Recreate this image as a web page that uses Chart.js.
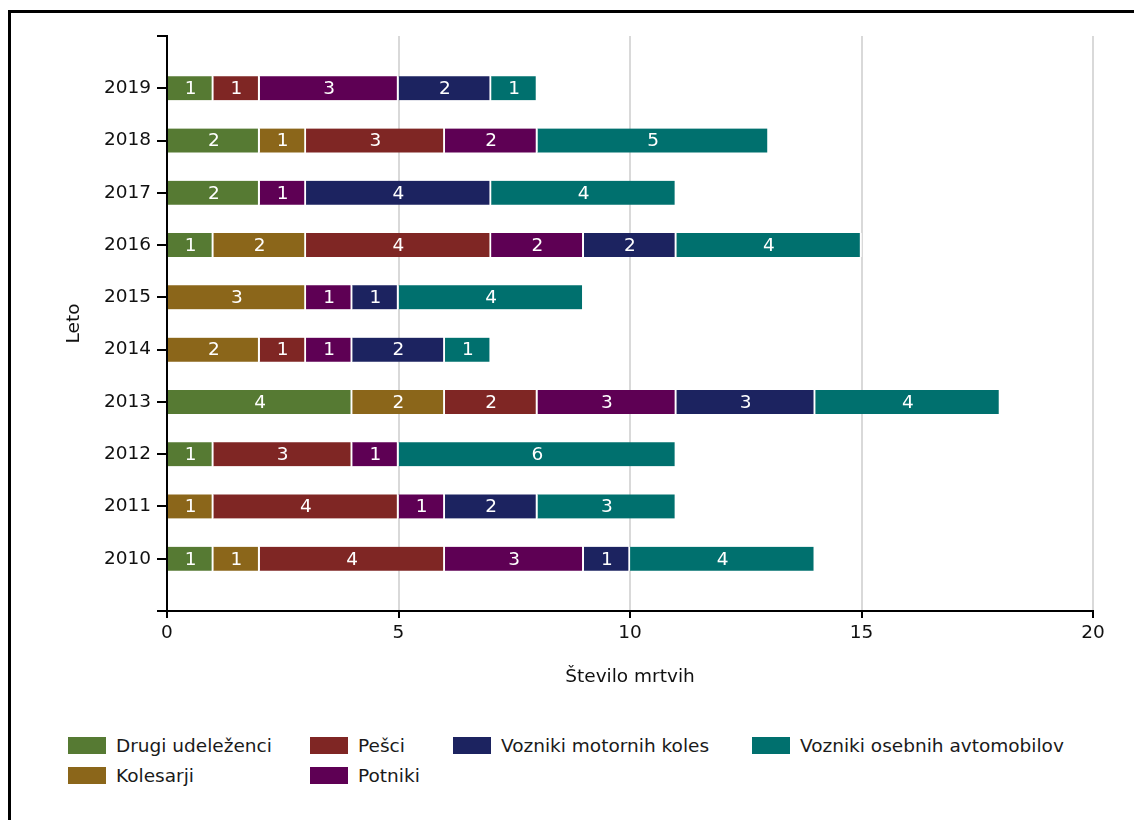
<!DOCTYPE html>
<html>
<head>
<meta charset="utf-8">
<script src="https://cdn.jsdelivr.net/npm/chart.js@4/dist/chart.umd.min.js"></script>
<style>
  body { margin: 0; background: #fff; width: 1134px; height: 820px; overflow: hidden; position: relative;
         font-family: 'DejaVu Sans', sans-serif; }
  #frame { position: absolute; left: 8px; top: 10px; width: 1200px; height: 900px;
           border-left: 3px solid #000; border-top: 3px solid #000; }
  #wrap { position: absolute; left: 0; top: 0; width: 1134px; height: 700px; }
  .lg { position: absolute; display: flex; align-items: center; font-size: 18.5px; color: #1a1a1a; white-space: nowrap; }
  .lg i { display: inline-block; width: 38px; height: 17px; margin-right: 10px; }
</style>
</head>
<body>
<div id="frame"></div>
<div id="wrap"><canvas id="c"></canvas></div>
<div id="legend"></div>
<script>
// ─── Data (chronological, 2010 → 2019) ───────────────────────────────────────
const years     = ['2010','2011','2012','2013','2014','2015','2016','2017','2018','2019'];
const drugi     = [1, 0, 1, 4, 0, 0, 1, 2, 2, 1];
const kolesarji = [1, 1, 0, 2, 2, 3, 2, 0, 1, 0];
const pesci     = [4, 4, 3, 2, 1, 0, 4, 0, 3, 1];
const potniki   = [3, 1, 1, 3, 1, 1, 2, 1, 2, 3];
const moto      = [1, 2, 0, 3, 2, 1, 2, 4, 0, 2];
const osebni    = [4, 3, 6, 4, 1, 4, 4, 4, 5, 1];
const xTicks    = [0, 5, 10, 15, 20];

const SERIES = [
  { label: 'Drugi udeleženci',            data: drugi,     color: '#567a33' },
  { label: 'Kolesarji',                   data: kolesarji, color: '#8b661a' },
  { label: 'Pešci',                       data: pesci,     color: '#7f2624' },
  { label: 'Potniki',                     data: potniki,   color: '#5e0054' },
  { label: 'Vozniki motornih koles',      data: moto,      color: '#1c2360' },
  { label: 'Vozniki osebnih avtomobilov', data: osebni,    color: '#00706e' },
];

const FONT = "'DejaVu Sans', sans-serif";
const FS = 18.5;

// newest year on top, empty slot above and below
const labels = ['', ...years.slice().reverse(), ''];
const pad = arr => [null, ...arr.slice().reverse().map(v => v || null), null];

// ─── White value labels inside each segment ──────────────────────────────────
const segLabels = {
  id: 'segLabels',
  afterDatasetsDraw(chart) {
    const ctx = chart.ctx;
    ctx.save();
    ctx.font = FS + 'px ' + FONT;
    ctx.fillStyle = '#fff';
    ctx.textAlign = 'center';
    ctx.textBaseline = 'middle';
    chart.data.datasets.forEach((ds, i) => {
      chart.getDatasetMeta(i).data.forEach((el, j) => {
        const v = ds.data[j];
        if (!v) return;
        ctx.fillText(String(v), (el.x + el.base) / 2, el.y + 1);
      });
    });
    ctx.restore();
  }
};

new Chart(document.getElementById('c'), {
  type: 'bar',
  data: {
    labels,
    datasets: SERIES.map(s => ({
      label: s.label,
      data: pad(s.data),
      backgroundColor: s.color,
      borderColor: '#fff',
      borderWidth: { left: 0, right: 2, top: 0, bottom: 0 },
      borderSkipped: false,
      barThickness: 24,
    }))
  },
  options: {
    indexAxis: 'y',
    responsive: true,
    maintainAspectRatio: false,
    animation: false,
    layout: { padding: { left: 59, top: 36, right: 41, bottom: 8 } },
    plugins: { legend: { display: false }, tooltip: { enabled: false } },
    scales: {
      x: {
        stacked: true,
        min: 0, max: 20,
        afterBuildTicks: s => { s.ticks = xTicks.map(v => ({ value: v })); },
        afterFit: s => { s.height = 81; },
        grid: { color: '#d9d9d9', lineWidth: 2, tickColor: '#000', tickLength: 7, drawTicks: true },
        border: { color: '#000', width: 2 },
        ticks: { color: '#111', font: { family: FONT, size: FS }, padding: 4 },
        title: { display: true, text: 'Število mrtvih', color: '#111', font: { family: FONT, size: FS }, padding: 4 },
      },
      y: {
        stacked: true,
        offset: false,
        afterFit: s => { s.width = 108; },
        grid: { offset: false, drawOnChartArea: false, tickColor: '#000', tickLength: 10, lineWidth: 2 },
        border: { color: '#000', width: 2 },
        ticks: { color: '#111', font: { family: FONT, size: FS }, padding: 6, autoSkip: false },
        title: { display: true, text: 'Leto', color: '#111', font: { family: FONT, size: FS }, padding: 4 },
      }
    }
  },
  plugins: [segLabels]
});

// ─── Legend: two rows, four columns ──────────────────────────────────────────
const colX = [68, 310, 453, 752];
const rowY = [737, 767];
const slot = [[0, 0], [0, 1], [1, 0], [1, 1], [2, 0], [3, 0]];
const lg = document.getElementById('legend');
SERIES.forEach((s, i) => {
  const d = document.createElement('div');
  d.className = 'lg';
  d.style.left = colX[slot[i][0]] + 'px';
  d.style.top = (rowY[slot[i][1]] - 2) + 'px';
  d.innerHTML = `<i style="background:${s.color}"></i><span>${s.label}</span>`;
  lg.appendChild(d);
});
</script>
</body>
</html>
